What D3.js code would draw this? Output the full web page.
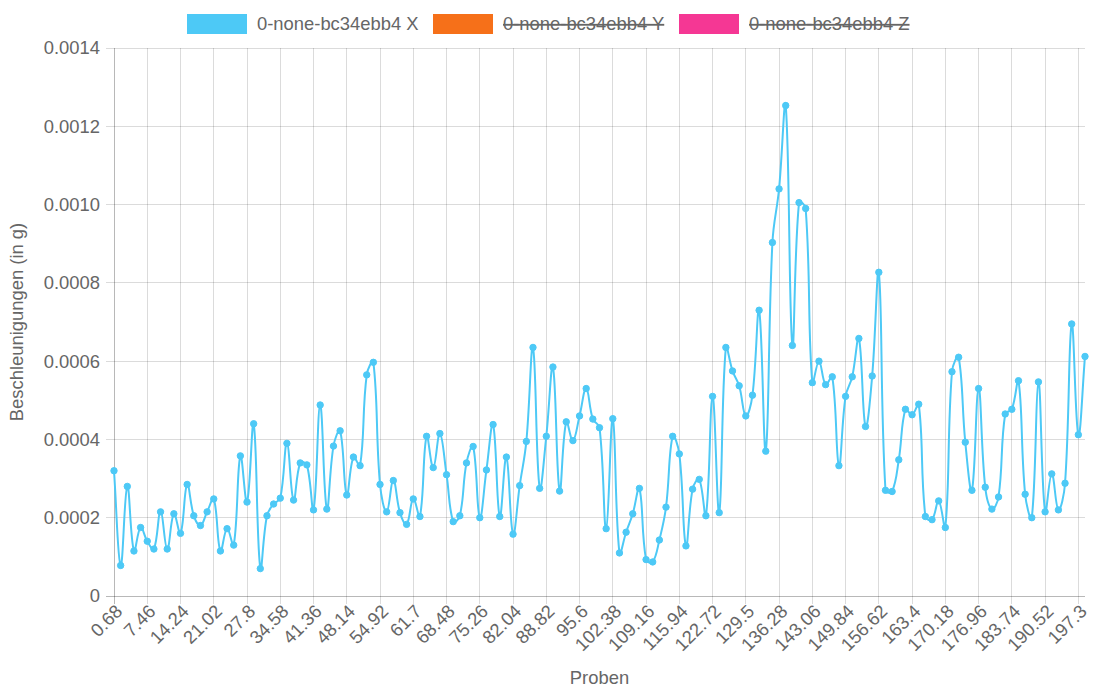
<!DOCTYPE html>
<html><head><meta charset="utf-8">
<script src="https://cdn.jsdelivr.net/npm/d3@7"></script>
<style>
html,body{margin:0;padding:0;background:#fff;}
svg{display:block;font-family:"Liberation Sans",Arial,Helvetica,sans-serif;}
</style></head>
<body><svg id="c" width="1098" height="696"></svg>
<script>
// ---- data ----
const seriesNames = ["0-none-bc34ebb4 X", "0-none-bc34ebb4 Y", "0-none-bc34ebb4 Z"];
const seriesColors = ["#4dc9f6", "#f67019", "#f53794"];
const seriesHidden = [false, true, true];
const categories = d3.range(147).map(i => +(0.68 + 1.356 * i).toFixed(3));
const xTickLabels = ["0.68","7.46","14.24","21.02","27.8","34.58","41.36","48.14","54.92","61.7","68.48","75.26","82.04","88.82","95.6","102.38","109.16","115.94","122.72","129.5","136.28","143.06","149.84","156.62","163.4","170.18","176.96","183.74","190.52","197.3"];
const yTicks = [0, 0.0002, 0.0004, 0.0006, 0.0008, 0.0010, 0.0012, 0.0014];
const yTickLabels = ["0","0.0002","0.0004","0.0006","0.0008","0.0010","0.0012","0.0014"];
const valuesX = [
0.00032,0.000078,0.00028,0.000115,0.000175,0.00014,0.00012,0.000215,0.00012,0.00021,
0.00016,0.000285,0.000205,0.00018,0.000215,0.000248,0.000115,0.000172,0.00013,0.000358,
0.00024,0.00044,0.00007,0.000205,0.000235,0.00025,0.00039,0.000245,0.00034,0.000335,
0.00022,0.000488,0.000222,0.000383,0.000422,0.000258,0.000355,0.000333,0.000565,0.000597,
0.000285,0.000215,0.000295,0.000213,0.000183,0.000248,0.000203,0.000408,0.000328,0.000415,
0.00031,0.00019,0.000205,0.00034,0.000382,0.0002,0.000322,0.000438,0.000203,0.000355,
0.000158,0.000282,0.000395,0.000635,0.000275,0.000408,0.000585,0.000268,0.000445,0.000397,
0.00046,0.00053,0.000452,0.00043,0.000172,0.000453,0.00011,0.000163,0.00021,0.000275,
0.000093,0.000087,0.000143,0.000227,0.000408,0.000363,0.000128,0.000273,0.000298,0.000205,
0.00051,0.000213,0.000635,0.000575,0.000537,0.00046,0.000513,0.00073,0.00037,0.000903,
0.00104,0.001253,0.00064,0.001005,0.00099,0.000545,0.0006,0.00054,0.00056,0.000333,
0.00051,0.00056,0.000658,0.000433,0.000562,0.000827,0.00027,0.000267,0.000348,0.000477,
0.000463,0.00049,0.000203,0.000195,0.000243,0.000175,0.000573,0.00061,0.000393,0.00027,
0.00053,0.000278,0.000222,0.000253,0.000465,0.000477,0.00055,0.00026,0.0002,0.000547,
0.000215,0.000312,0.00022,0.000288,0.000695,0.000412,0.000612];

// ---- layout ----
const svg = d3.select("#c");
const L = 114, R = 1085, T = 48, B = 596;
const x = d3.scalePoint().domain(d3.range(categories.length)).range([L, R]);
const y = d3.scaleLinear().domain([0, 0.0014]).range([B, T]);
const grid = "rgba(0,0,0,0.14)", axisC = "rgba(0,0,0,0.28)", txt = "#666";

// horizontal grid
svg.append("g").selectAll("line").data(yTicks).join("line")
  .attr("x1", L - 8).attr("x2", R).attr("y1", d => y(d)).attr("y2", d => y(d))
  .attr("stroke", (d,i) => i === 0 ? axisC : grid).attr("stroke-width", 1)
  .attr("shape-rendering", "crispEdges");
// vertical grid at shown ticks
const shownIdx = xTickLabels.map((_, k) => k * 5);
svg.append("g").selectAll("line").data(shownIdx).join("line")
  .attr("x1", d => x(d)).attr("x2", d => x(d)).attr("y1", T).attr("y2", B + 8)
  .attr("stroke", (d,i) => i === 0 ? axisC : grid).attr("stroke-width", 1)
  .attr("shape-rendering", "crispEdges");

// y tick labels
svg.append("g").selectAll("text").data(yTicks).join("text")
  .attr("x", L - 14).attr("y", d => y(d)).attr("dy", "0.35em")
  .attr("text-anchor", "end").attr("fill", txt).attr("font-size", 18.4)
  .text((d, i) => yTickLabels[i]);

// x tick labels
svg.append("g").selectAll("text").data(shownIdx).join("text")
  .attr("transform", d => `translate(${x(d) + 5},${B + 12}) rotate(-45)`)
  .attr("text-anchor", "end").attr("dy", "0.35em")
  .attr("fill", txt).attr("font-size", 18.4)
  .text((d, k) => xTickLabels[k]);

// axis titles
svg.append("text").attr("x", (L + R) / 2).attr("y", 684).attr("text-anchor", "middle")
  .attr("fill", txt).attr("font-size", 18.4).text("Proben");
svg.append("text").attr("transform", `translate(23,${(T + B) / 2}) rotate(-90)`)
  .attr("text-anchor", "middle").attr("fill", txt).attr("font-size", 18.4)
  .text("Beschleunigungen (in g)");

// Chart.js-like spline
const pts = valuesX.map((v, i) => [x(i), y(v)]);
const t = 0.4;
const cps = pts.map((p, i) => {
  const prev = pts[i - 1] || p, next = pts[i + 1] || p;
  const d01 = Math.hypot(p[0] - prev[0], p[1] - prev[1]);
  const d12 = Math.hypot(next[0] - p[0], next[1] - p[1]);
  let s01 = d01 / (d01 + d12), s12 = d12 / (d01 + d12);
  if (!isFinite(s01)) s01 = 0; if (!isFinite(s12)) s12 = 0;
  const fa = t * s01, fb = t * s12;
  const cap = q => [Math.max(L, Math.min(R, q[0])), Math.max(T, Math.min(B, q[1]))];
  return {
    prev: cap([p[0] - fa * (next[0] - prev[0]), p[1] - fa * (next[1] - prev[1])]),
    next: cap([p[0] + fb * (next[0] - prev[0]), p[1] + fb * (next[1] - prev[1])])
  };
});
const path = d3.path();
path.moveTo(pts[0][0], pts[0][1]);
for (let i = 1; i < pts.length; i++) {
  const a = cps[i - 1].next, b = cps[i].prev;
  path.bezierCurveTo(a[0], a[1], b[0], b[1], pts[i][0], pts[i][1]);
}
svg.append("path").attr("d", path.toString()).attr("fill", "none")
  .attr("stroke", seriesColors[0]).attr("stroke-width", 2);
svg.append("g").selectAll("circle").data(valuesX).join("circle")
  .attr("cx", (d, i) => x(i)).attr("cy", d => y(d)).attr("r", 3.2)
  .attr("fill", seriesColors[0]).attr("stroke", seriesColors[0]).attr("stroke-width", 1);

// legend
const legendX = [187, 433, 679];
const lg = svg.append("g").selectAll("g").data(seriesNames).join("g")
  .attr("transform", (d, i) => `translate(${legendX[i]},14)`);
lg.append("rect").attr("width", 60).attr("height", 20).attr("fill", (d, i) => seriesColors[i]);
lg.append("text").attr("x", 70).attr("y", 10).attr("dy", "0.35em").attr("fill", txt)
  .attr("font-size", 18.4).attr("text-decoration", (d, i) => seriesHidden[i] ? "line-through" : null)
  .text(d => d);
</script></body></html>
